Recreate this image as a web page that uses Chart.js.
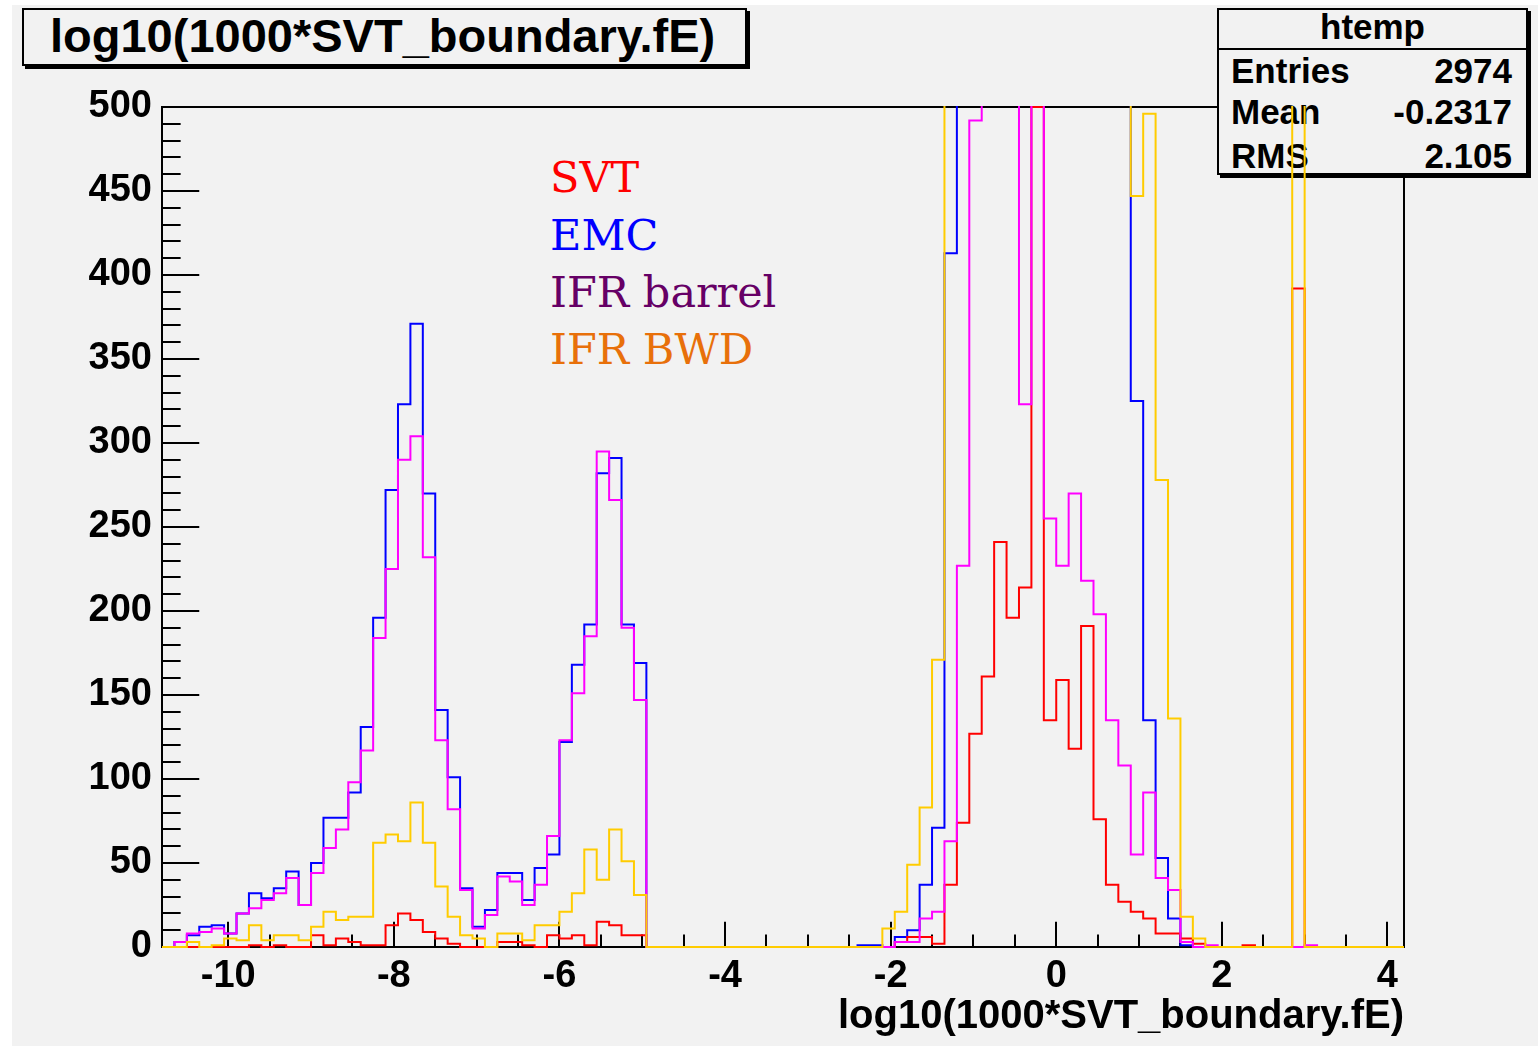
<!DOCTYPE html>
<html>
<head>
<meta charset="utf-8">
<script src="https://cdn.jsdelivr.net/npm/chart.js@4.4.1/dist/chart.umd.min.js"></script>
<style>
html,body{margin:0;padding:0;background:#ffffff;}
#wrap{position:relative;width:1538px;height:1048px;overflow:hidden;}
#bg{position:absolute;left:12px;top:5px;width:1526px;height:1041px;background:#f2f2f2;}
.box{position:absolute;box-sizing:border-box;background:#f2f2f2;border:2px solid #000;box-shadow:3px 3px 0 #000;}
.t{position:absolute;white-space:nowrap;line-height:1;font-family:"Liberation Sans",Arial,sans-serif;font-weight:bold;color:#000;}
.lg{position:absolute;white-space:nowrap;line-height:1;font-family:"DejaVu Serif",serif;font-size:43px;}
#c{position:absolute;left:0;top:0;z-index:5;}
</style>
</head>
<body>
<div id="wrap">
  <div id="bg"></div>
  <div class="box" style="left:22px;top:8px;width:725px;height:58px;"></div>
  <div class="t" style="left:50px;top:12px;font-size:47px;">log10(1000*SVT_boundary.fE)</div>

  <div class="box" style="left:1217px;top:8px;width:311px;height:167px;"></div>
  <div style="position:absolute;left:1217px;top:48px;width:311px;height:2px;background:#000;"></div>
  <div class="t" style="left:1217px;width:311px;text-align:center;top:9px;font-size:35px;">htemp</div>
  <div class="t" style="left:1231px;top:53px;font-size:35px;">Entries</div>
  <div class="t" style="right:26px;top:53px;font-size:35px;">2974</div>
  <div class="t" style="left:1231px;top:94px;font-size:35px;">Mean</div>
  <div class="t" style="right:26px;top:94px;font-size:35px;">-0.2317</div>
  <div class="t" style="left:1231px;top:138px;font-size:35px;">RMS</div>
  <div class="t" style="right:26px;top:138px;font-size:35px;">2.105</div>

  <div class="lg" style="left:550px;top:156px;color:#ff0000;">SVT</div>
  <div class="lg" style="left:550px;top:214px;color:#0000ff;">EMC</div>
  <div class="lg" style="left:550px;top:271px;color:#660066;">IFR barrel</div>
  <div class="lg" style="left:550px;top:328px;color:#e8700a;">IFR BWD</div>

  <canvas id="c" width="1538" height="1048"></canvas>
</div>
<script>
// Histogram definition (ROOT default: 100 bins)
const binLow = -10.8;
const binHigh = 4.2;
const nBins = 100;

// Bin contents (bins above 500 are off-scale, estimated)
const svt = [0,0,0,0,0,0,0,1,0,1, 0,0,7,1,5,3,1,1,13,20, 16,9,5,2,0,0,0,3,3,1, 0,7,5,7,1,15,13,7,7,
  0,0,0,0,0,0,0,0,0,0,0,0,0,0,0,0,0,0,0,0,
  3,6,6,2,37,74,127,161,241,196,214,500,135,159,118,191,76,37,27,21,17,8,8,5,2,0,0,0,1,0,0,0,392,
  0,0,0,0,0,0,0,0];
const emc = [0,3,7,12,13,8,20,32,29,35, 45,25,50,77,77,92,131,196,272,323, 371,270,141,101,35,12,22,44,44,28, 47,55,122,168,192,282,291,192,169,
  0,0,0,0,0,0,0,0,0,0,0,0,0,0,0,0,0,
  1,1,0,6,10,37,71,413,640,820,980,1080,1150,1200,1230,1180,1120,1020,900,760,620,540,325,135,53,17,1,
  0,0,0,0,0,0,0,0,0,0,0,0,0,0,0,0,0];
const ifrBarrel = [0,3,8,9,11,8,20,23,28,32, 41,25,44,59,70,98,117,184,225,290, 304,232,123,82,34,11,19,42,39,25, 37,66,123,151,185,295,266,190,147,
  0,0,0,0,0,0,0,0,0,0,0,0,0,0,0,0,0,0,0,0,
  3,3,17,21,63,227,492,560,610,580,323,530,255,227,270,218,198,135,108,55,92,41,34,3,0,1,
  0,0,0,0,0,0,0,1,0,0,0,0,0,0,0];
const ifrBwd = [0,0,3,0,1,5,4,13,4,7, 7,4,12,21,16,18,18,62,67,63, 86,62,36,18,7,5,0,8,8,4, 13,13,21,32,58,40,70,51,31,
  0,0,0,0,0,0,0,0,0,0,0,0,0,0,0,0,0,0,0,
  11,21,49,83,171,620,760,900,1000,1060,1100,1120,1100,1060,1000,920,820,720,620,540,447,496,278,136,18,5,
  0,0,0,0,0,0,0,800,0,0,0,0,0,0,0,0];

const xTickValues = [-10,-8,-6,-4,-2,0,2,4];
const yTickValues = [0,50,100,150,200,250,300,350,400,450,500];
const yMax = 500;

const statsBox = {left:1217, top:8, right:1531, bottom:178};

function histPoints(vals){
  const w = (binHigh - binLow) / nBins;
  const pts = vals.map((v, i) => ({x: binLow + i * w, y: v}));
  pts.push({x: binHigh, y: vals[vals.length - 1]});
  return pts;
}

const framePlugin = {
  id: 'rootFrame',
  beforeDatasetsDraw(chart){
    const {ctx, chartArea: a, scales} = chart;
    const xs = scales.x, ys = scales.y;
    ctx.save();
    ctx.beginPath();
    ctx.rect(0, 0, chart.width, chart.height);
    ctx.rect(statsBox.left, statsBox.top, statsBox.right - statsBox.left, statsBox.bottom - statsBox.top);
    ctx.clip('evenodd');
    ctx.strokeStyle = '#000';
    ctx.lineWidth = 2;
    ctx.strokeRect(a.left, a.top, a.right - a.left, a.bottom - a.top);
    const yMajor = 0.03 * (a.right - a.left);
    const xMajor = 0.03 * (a.bottom - a.top);
    ctx.beginPath();
    for (let k = 0; k <= yMax / 10; k++){
      const v = k * 10;
      const py = Math.round(ys.getPixelForValue(v));
      const len = yTickValues.includes(v) ? yMajor : yMajor / 2;
      ctx.moveTo(a.left, py); ctx.lineTo(a.left + len, py);
    }
    for (let k = -21; k <= 8; k++){
      const v = k * 0.5;
      const px = Math.round(xs.getPixelForValue(v));
      const len = xTickValues.includes(v) ? xMajor : xMajor / 2;
      ctx.moveTo(px, a.bottom); ctx.lineTo(px, a.bottom - len);
    }
    ctx.stroke();
    ctx.restore();
  }
};

function ds(label, vals, color, order){
  return {
    label, data: histPoints(vals), borderColor: color, backgroundColor: color,
    borderWidth: 2, pointRadius: 0, stepped: true, fill: false, tension: 0,
    borderJoinStyle: 'miter', borderCapStyle: 'butt', order,
    clip: {left: 0, right: 0, top: 1, bottom: 2}
  };
}

const tickFont = {family: '"Liberation Sans", Arial, sans-serif', weight: 'bold', size: 38};

new Chart(document.getElementById('c'), {
  type: 'line',
  data: {
    datasets: [
      ds('IFR BWD', ifrBwd, '#ffcc00', 0),
      ds('IFR barrel', ifrBarrel, '#ff00ff', 1),
      ds('SVT', svt, '#ff0000', 2),
      ds('EMC', emc, '#0000ff', 3)
    ]
  },
  options: {
    responsive: false,
    animation: false,
    devicePixelRatio: 1,
    layout: {padding: {left: 0, top: 107, right: 134, bottom: 0}},
    plugins: {legend: {display: false}, tooltip: {enabled: false}},
    scales: {
      x: {
        type: 'linear', min: binLow, max: binHigh,
        grid: {display: false, drawTicks: false},
        border: {display: false},
        afterBuildTicks(scale){ scale.ticks = xTickValues.map(v => ({value: v})); },
        afterFit(scale){ scale.height = 101; },
        ticks: {font: tickFont, color: '#000', padding: 7, maxRotation: 0, autoSkip: false,
          callback: v => String(v)},
        title: {display: true, text: 'log10(1000*SVT_boundary.fE)', align: 'end', color: '#000',
          font: {family: '"Liberation Sans", Arial, sans-serif', weight: 'bold', size: 40},
          padding: {top: 0, bottom: 7}}
      },
      y: {
        type: 'linear', min: 0, max: yMax,
        grid: {display: false, drawTicks: false},
        border: {display: false},
        afterBuildTicks(scale){ scale.ticks = yTickValues.map(v => ({value: v})); },
        afterFit(scale){ scale.width = 162; },
        ticks: {font: tickFont, color: '#000', padding: 10, autoSkip: false,
          callback: v => String(v)}
      }
    }
  },
  plugins: [framePlugin]
});
</script>
</body>
</html>
